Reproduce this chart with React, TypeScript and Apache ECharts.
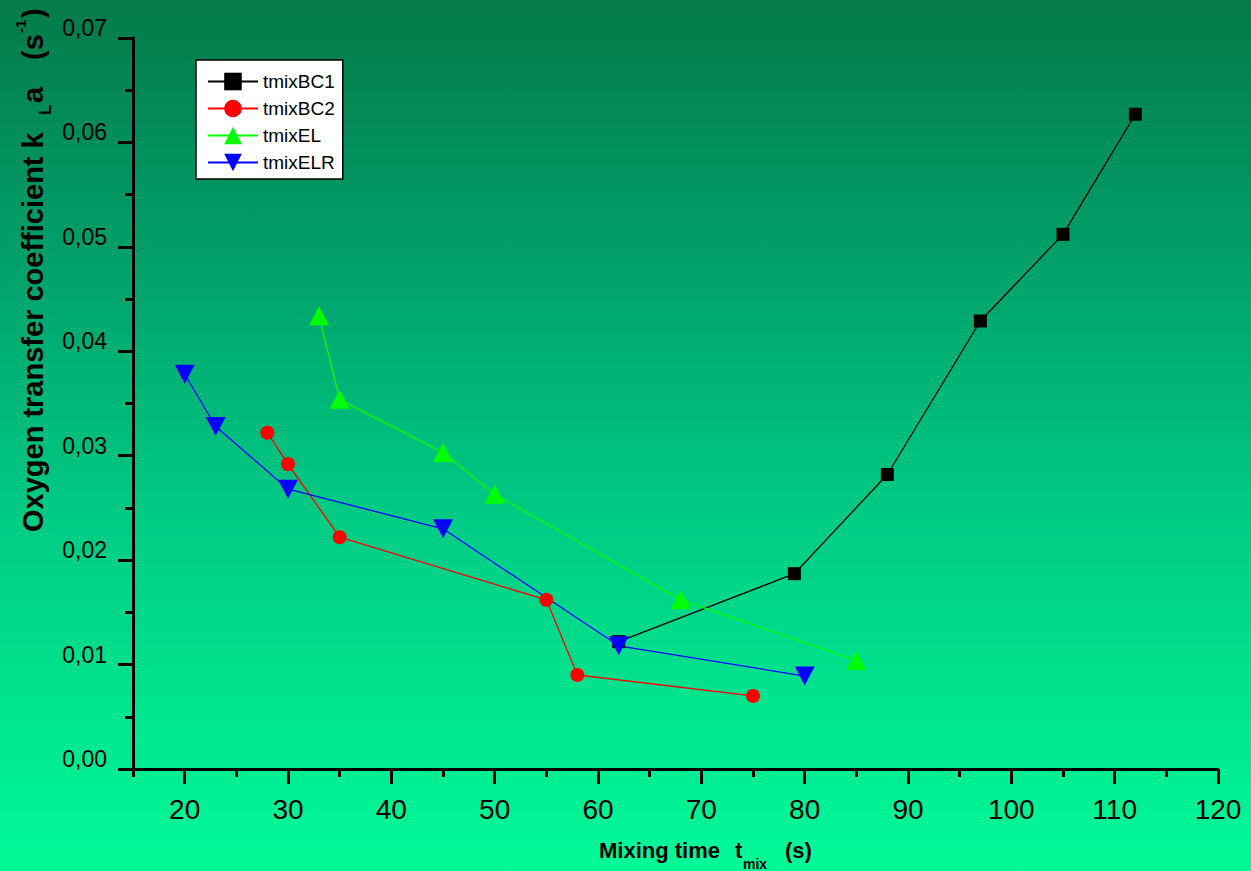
import React, { useEffect, useRef } from "react";
import * as echarts from "echarts";

const seriesNames = ["tmixBC1", "tmixBC2", "tmixEL", "tmixELR"];

const bc1X = [62, 79, 88, 97, 105, 112];
const bc1Y = [0.0122, 0.0187, 0.0282, 0.0429, 0.0512, 0.0627];

const bc2X = [28, 30, 35, 55, 58, 75];
const bc2Y = [0.0322, 0.0292, 0.0222, 0.0162, 0.009, 0.007];

const elX = [33, 35, 45, 50, 68, 85];
const elY = [0.0434, 0.0354, 0.0303, 0.0263, 0.0162, 0.0104];

const elrX = [20, 23, 30, 45, 62, 80];
const elrY = [0.0378, 0.0328, 0.0268, 0.023, 0.0118, 0.0089];

const xMajorTicks = [20, 30, 40, 50, 60, 70, 80, 90, 100, 110, 120];
const xMinorTicks = [15, 25, 35, 45, 55, 65, 75, 85, 95, 105, 115];

const FONT = "'Liberation Sans', Arial, Helvetica, sans-serif";

function pairs(xs: number[], ys: number[]) {
  return xs.map((x, i) => [x, ys[i]]);
}

export default function App() {
  const ref = useRef<HTMLDivElement>(null);
  useEffect(() => {
    document.body.style.margin = "0";
    if (!ref.current) return;
    const chart = echarts.init(ref.current, undefined, { renderer: "svg" });
    const axisColor = "#000";
    const lineBase = (name: string, xs: number[], ys: number[], color: string, symbol: string, size: any) => ({
      name,
      type: "line",
      data: pairs(xs, ys),
      symbol,
      symbolSize: size,
      lineStyle: { color, width: 1.3 },
      itemStyle: { color, borderWidth: 0 },
      emphasis: { disabled: true },
    });
    const bold = (text: string, x: number, y: number, size: number, rot = 0) => ({
      type: "text",
      x,
      y,
      rotation: rot,
      silent: true,
      style: {
        text,
        fontFamily: FONT,
        fontWeight: "bold",
        fontSize: size,
        fill: "#000",
        align: "left",
        verticalAlign: "middle",
      },
    });
    const R = Math.PI / 2;
    chart.setOption({
      animation: false,
      backgroundColor: "transparent",
      grid: { left: 133, right: 33, top: 38, bottom: 102, containLabel: false },
      legend: {
        left: 196,
        top: 60,
        orient: "vertical",
        backgroundColor: "#fff",
        borderColor: "#000",
        borderWidth: 1.5,
        borderRadius: 0,
        padding: [12, 8, 7, 11],
        itemWidth: 50,
        itemHeight: 22,
        itemGap: 8,
        textStyle: { fontFamily: FONT, fontSize: 19, color: "#000", lineHeight: 19 },
        data: seriesNames,
      },
      xAxis: [
        {
          type: "value",
          min: 15,
          max: 120,
          position: "bottom",
          offset: 0,
          axisLine: { onZero: false, lineStyle: { color: axisColor, width: 3 } },
          axisTick: { customValues: xMajorTicks, length: 15, lineStyle: { color: axisColor, width: 3 } },
          axisLabel: {
            customValues: xMajorTicks,
            fontFamily: FONT,
            fontSize: 28,
            color: "#000",
            margin: 26,
          },
          splitLine: { show: false },
        },
        {
          type: "value",
          min: 15,
          max: 120,
          position: "bottom",
          offset: 0,
          axisLine: { show: false },
          axisTick: { customValues: xMinorTicks, length: 8, lineStyle: { color: axisColor, width: 3 } },
          axisLabel: { show: false },
          splitLine: { show: false },
        },
      ],
      yAxis: {
        type: "value",
        min: 0,
        max: 0.07,
        interval: 0.01,
        axisLine: { onZero: false, lineStyle: { color: axisColor, width: 3 } },
        axisTick: { length: 15, lineStyle: { color: axisColor, width: 3 } },
        minorTick: { show: true, splitNumber: 2, length: 8, lineStyle: { color: axisColor, width: 3 } },
        axisLabel: {
          fontFamily: FONT,
          fontSize: 23,
          color: "#000",
          margin: 26,
          verticalAlign: "bottom",
          lineHeight: 20,
          formatter: (v: number) => v.toFixed(2).replace(".", ","),
        },
        splitLine: { show: false },
      },
      series: [
        lineBase(seriesNames[0], bc1X, bc1Y, "#000000", "rect", 13),
        lineBase(seriesNames[1], bc2X, bc2Y, "#ff0000", "circle", 14),
        lineBase(seriesNames[2], elX, elY, "#00ff00", "path://M10,0 L20,19 L0,19 Z", [20, 19]),
        lineBase(seriesNames[3], elrX, elrY, "#0000ff", "path://M0,0 L20,0 L10,19 Z", [20, 19]),
      ],
      graphic: [
        bold("Oxygen transfer coefficient k", 33, 532, 29, R),
        bold("L", 45, 115, 17, R),
        bold("a", 33, 103, 29, R),
        bold("(s", 33, 60, 29, R),
        bold("-1", 20, 33, 15, R),
        bold(")", 33, 18, 29, R),
        bold("Mixing time", 599, 850, 22),
        bold("t", 735, 850, 22),
        bold("mix", 743, 864, 14),
        bold("(s)", 785, 850, 22),
      ],
    });
    return () => chart.dispose();
  }, []);
  return (
    <div
      ref={ref}
      style={{
        width: 1251,
        height: 871,
        background: "linear-gradient(to bottom, #037a49 0%, #01a06a 30%, #00cc84 60%, #00fa98 100%)",
      }}
    />
  );
}
